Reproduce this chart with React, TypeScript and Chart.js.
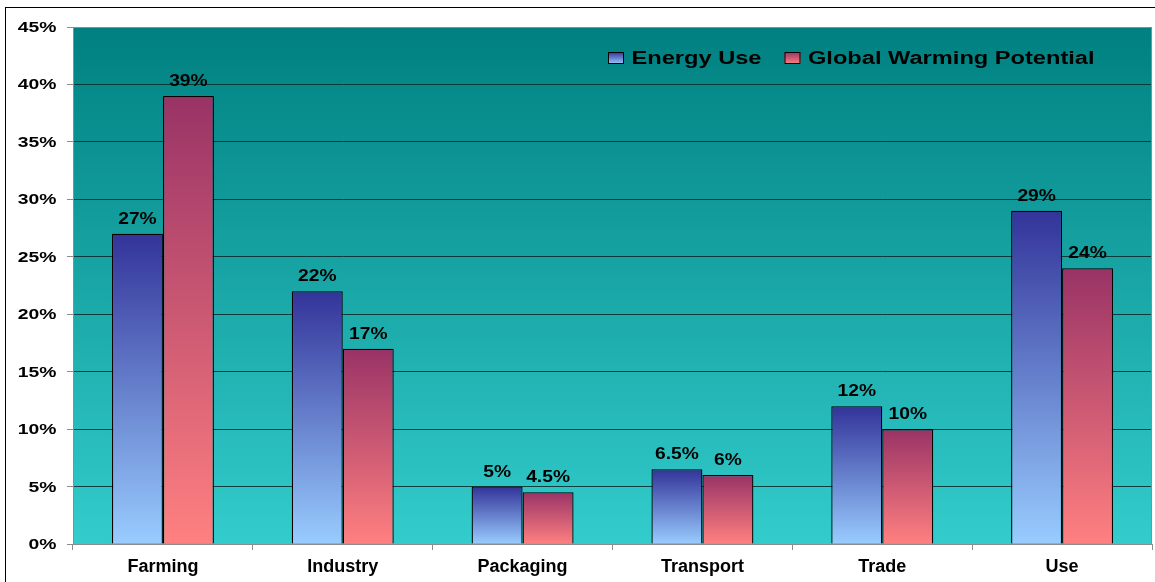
import React, { useEffect, useRef } from 'react';
import { Chart, registerables } from 'chart.js';

Chart.register(...registerables);

const categories = ['Farming', 'Industry', 'Packaging', 'Transport', 'Trade', 'Use'];
const energyUse = [27, 22, 5, 6.5, 12, 29];
const globalWarming = [39, 17, 4.5, 6, 10, 24];
const seriesNames = ['Energy Use', 'Global Warming Potential'];
const yMax = 45;
const yStep = 5;

const FONT = '"Liberation Sans", Arial, Helvetica, sans-serif';
const ENERGY_TOP = '#333399';
const ENERGY_BOTTOM = '#99CCFF';
const GWP_TOP = '#993366';
const GWP_BOTTOM = '#FF8080';

function stretchText(ctx: CanvasRenderingContext2D, text: string, x: number, y: number, sx: number, align: CanvasTextAlign) {
  ctx.save();
  ctx.translate(x, y);
  ctx.scale(sx, 1);
  ctx.textAlign = align;
  ctx.textBaseline = 'alphabetic';
  ctx.fillText(text, 0, 0);
  ctx.restore();
}

function barGradient(top: string, bottom: string) {
  return (c: any) => {
    const chart = c.chart;
    if (!chart.chartArea || c.type !== 'data') return bottom;
    const ys = chart.scales.y;
    const v = c.parsed ? c.parsed.y : c.raw;
    const yTop = ys.getPixelForValue(v);
    const yBase = ys.getPixelForValue(0);
    if (!isFinite(yTop) || !isFinite(yBase) || yTop === yBase) return bottom;
    const g = chart.ctx.createLinearGradient(0, yTop, 0, yBase);
    g.addColorStop(0, top);
    g.addColorStop(1, bottom);
    return g;
  };
}

const decorPlugin = {
  id: 'decor',
  beforeDraw(chart: any) {
    const { ctx, chartArea } = chart;
    const a = chartArea;
    ctx.save();
    ctx.strokeStyle = '#000000';
    ctx.lineWidth = 1;
    ctx.strokeRect(5.5, 7.5, chart.width + 20, chart.height + 20);
    const g = ctx.createLinearGradient(0, a.top, 0, a.bottom);
    g.addColorStop(0, '#008080');
    g.addColorStop(1, '#33CCCC');
    ctx.fillStyle = g;
    ctx.fillRect(a.left, a.top, a.right - a.left, a.bottom - a.top);
    ctx.restore();
  },
  beforeDatasetsDraw(chart: any) {
    const { ctx, chartArea: a } = chart;
    ctx.save();
    ctx.strokeStyle = '#8c8c8c';
    ctx.lineWidth = 1;
    ctx.beginPath();
    ctx.moveTo(a.left, a.top + 0.5);
    ctx.lineTo(a.right - 0.5, a.top + 0.5);
    ctx.lineTo(a.right - 0.5, a.bottom);
    ctx.stroke();
    ctx.restore();
  },
  afterDraw(chart: any) {
    const { ctx, chartArea: a } = chart;
    ctx.save();
    ctx.fillStyle = '#000000';
    const ys = chart.scales.y;
    ctx.font = `bold 14px ${FONT}`;
    ys.ticks.forEach((t: any) => {
      const py = ys.getPixelForValue(t.value);
      stretchText(ctx, `${t.value}%`, a.left - 16.5, py + 5, 1.38, 'right');
    });
    ctx.font = `bold 16px ${FONT}`;
    chart.data.datasets.forEach((ds: any, di: number) => {
      const meta = chart.getDatasetMeta(di);
      meta.data.forEach((el: any, i: number) => {
        stretchText(ctx, `${ds.data[i]}%`, el.x, el.y - 10, 1.2, 'center');
      });
    });
    const items = [
      { label: seriesNames[0], top: ENERGY_TOP, bottom: ENERGY_BOTTOM },
      { label: seriesNames[1], top: GWP_TOP, bottom: GWP_BOTTOM },
    ];
    ctx.font = `bold 17.5px ${FONT}`;
    let x = a.right - 544;
    const base = a.top + 37;
    items.forEach((it) => {
      const sq = ctx.createLinearGradient(0, base - 12, 0, base);
      sq.addColorStop(0, it.top);
      sq.addColorStop(1, it.bottom);
      ctx.fillStyle = sq;
      ctx.fillRect(x, base - 12, 16, 12);
      ctx.strokeStyle = '#000000';
      ctx.lineWidth = 1;
      ctx.strokeRect(x + 0.5, base - 11.5, 15, 11);
      x += 16 + 7.5;
      ctx.fillStyle = '#000000';
      stretchText(ctx, it.label, x, base, 1.35, 'left');
      x += ctx.measureText(it.label).width * 1.35 + 23;
    });
    ctx.restore();
  },
};

export default function App() {
  const canvasRef = useRef<HTMLCanvasElement | null>(null);

  useEffect(() => {
    document.body.style.margin = '0';
    const canvas = canvasRef.current;
    if (!canvas) return;
    const chart = new Chart(canvas, {
      type: 'bar',
      data: {
        labels: categories,
        datasets: [
          {
            label: seriesNames[0],
            data: energyUse,
            backgroundColor: barGradient(ENERGY_TOP, ENERGY_BOTTOM) as any,
            borderColor: '#000000',
            borderWidth: 1.3,
            categoryPercentage: 0.567,
            barPercentage: 1.0,
          },
          {
            label: seriesNames[1],
            data: globalWarming,
            backgroundColor: barGradient(GWP_TOP, GWP_BOTTOM) as any,
            borderColor: '#000000',
            borderWidth: 1.3,
            categoryPercentage: 0.567,
            barPercentage: 1.0,
          },
        ],
      },
      options: {
        responsive: false,
        maintainAspectRatio: false,
        animation: false,
        devicePixelRatio: 1,
        layout: { padding: { top: 27, right: 3, left: 0, bottom: 0 } },
        plugins: {
          legend: { display: false },
          tooltip: { enabled: false },
          title: { display: false },
        },
        scales: {
          x: {
            grid: {
              display: true,
              drawOnChartArea: false,
              drawTicks: true,
              tickLength: 6,
              tickColor: '#8c8c8c',
              offset: true,
            },
            border: { display: true, color: '#8c8c8c', width: 1 },
            ticks: {
              color: '#000000',
              font: { family: FONT, size: 18, weight: 'bold' },
              padding: 6,
              maxRotation: 0,
              autoSkip: false,
            },
            afterFit: (s: any) => {
              s.height = 38;
            },
          },
          y: {
            min: 0,
            max: yMax,
            ticks: {
              stepSize: yStep,
              display: false,
            },
            grid: {
              color: (c: any) =>
                c.tick && (c.tick.value === 0 || c.tick.value === yMax) ? 'rgba(0,0,0,0)' : 'rgba(10,40,40,0.85)',
              lineWidth: 1,
              drawTicks: true,
              tickLength: 6,
              tickColor: '#8c8c8c',
            },
            border: { display: true, color: '#8c8c8c', width: 1 },
            afterFit: (s: any) => {
              s.width = 73;
            },
          },
        },
      },
      plugins: [decorPlugin],
    });
    return () => {
      chart.destroy();
    };
  }, []);

  return (
    <div style={{ width: 1155, height: 582, position: 'relative' }}>
      <canvas ref={canvasRef} width={1155} height={582} style={{ width: '1155px', height: '582px', display: 'block' }} />
    </div>
  );
}
